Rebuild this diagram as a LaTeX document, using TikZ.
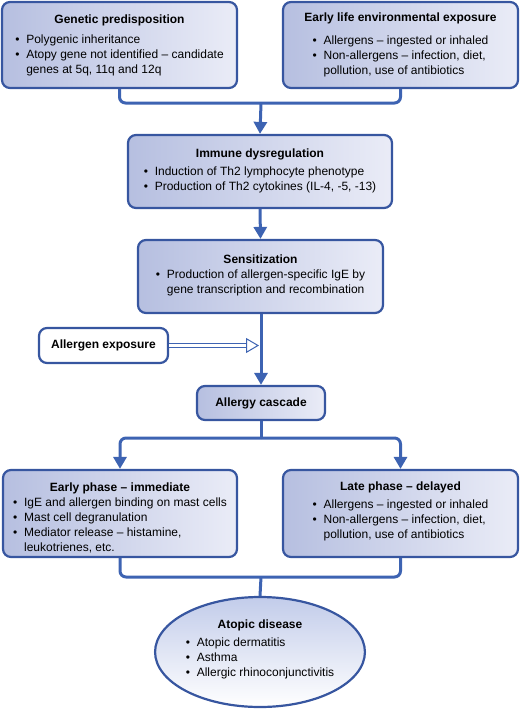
\documentclass[tikz,border=0pt]{standalone}
\usepackage{fontspec}
\setmainfont{Liberation Sans}
\usetikzlibrary{arrows.meta,shapes.geometric}
\definecolor{bordercol}{HTML}{3756A0}
\definecolor{conncol}{HTML}{3D63B2}
\definecolor{fillL}{HTML}{B6BFE0}
\definecolor{fillR}{HTML}{EAECF7}
\definecolor{ellT}{HTML}{C2CCEA}
\newcommand{\bu}{\makebox[11pt][l]{\textbullet}}
\newcommand{\ind}{\hspace*{11pt}}
\newcommand{\blist}[1]{\begin{tabular}{@{}l@{}}#1\end{tabular}}
\tikzset{
  box/.style={draw=bordercol, line width=2.2pt, rounded corners=8pt,
    left color=fillL, right color=fillR, align=center, inner sep=0pt,
    font=\fontsize{12}{15}\selectfont},
  wbox/.style={draw=bordercol, line width=2.2pt, rounded corners=8pt,
    fill=white, align=center, inner sep=0pt, font=\fontsize{12}{15}\selectfont\bfseries},
  conn/.style={draw=conncol, line width=3pt, rounded corners=6pt},
  arr/.style={conn, -{Triangle[width=13pt,length=12pt]}},
  dbl/.style={draw=conncol, line width=0.9pt, double=white, double distance=3pt,
    -{Triangle[open,width=15pt,length=13pt,line width=1pt]}},
}
\begin{document}
\begin{tikzpicture}[x=1pt,y=-1pt]
\useasboundingbox (0,0) rectangle (520,709);
\node[box, minimum width=235pt, minimum height=86pt] (gen) at (119.5,45)
  {\textbf{Genetic predisposition}\rule{0pt}{11pt}\\[6pt]
   \blist{\bu Polygenic inheritance\\ \bu Atopy gene not identified -- candidate\\ \ind genes at 5q, 11q and 12q}};
\node[box, minimum width=235pt, minimum height=86pt] (early) at (400.5,45)
  {\textbf{Early life environmental exposure}\\[9pt]
   \blist{\bu Allergens -- ingested or inhaled\\ \bu Non-allergens -- infection, diet,\\ \ind pollution, use of antibiotics}\\[-2pt]};
\coordinate (j1) at (261,103);
\node[box, minimum width=264pt, minimum height=73pt] (imm) at (260,171.5)
  {\textbf{Immune dysregulation}\\[4pt]
   \blist{\bu Induction of Th2 lymphocyte phenotype\\ \bu Production of Th2 cytokines (IL-4, -5, -13)}};
\node[box, minimum width=245pt, minimum height=73pt] (sens) at (260.5,276.5)
  {\textbf{Sensitization}\\[4pt]
   \blist{\bu Production of allergen-specific IgE by\\ \ind gene transcription and recombination}};
\node[wbox, minimum width=129pt, minimum height=35pt] (exp) at (103.5,345.5) {Allergen exposure};
\node[box, minimum width=128pt, minimum height=34pt, font=\fontsize{12}{15}\selectfont\bfseries] (casc) at (261,403) {Allergy cascade};
\coordinate (hit) at (259,345.5);
\coordinate (j2) at (261,438);
\node[box, minimum width=234pt, minimum height=87pt] (ep) at (120,513.5)
  {\textbf{Early phase -- immediate}\rule{0pt}{21pt}\\[1pt]
   \blist{\bu IgE and allergen binding on mast cells\\ \bu Mast cell degranulation\\ \bu Mediator release -- histamine,\\ \ind leukotrienes, etc.}};
\node[box, minimum width=235pt, minimum height=87pt] (lp) at (400.5,513.5)
  {\textbf{Late phase -- delayed}\\[4pt]
   \blist{\bu Allergens -- ingested or inhaled\\ \bu Non-allergens -- infection, diet,\\ \ind pollution, use of antibiotics}\\[1pt]};
\coordinate (j3) at (261,577);
\node[ellipse, draw=bordercol, line width=2.2pt, top color=ellT, bottom color=white,
  minimum width=207pt, minimum height=110pt, inner sep=0pt, align=center,
  font=\fontsize{12}{15}\selectfont] (atop) at (260,652)
  {\textbf{Atopic disease}\\[4pt]
   \blist{\bu Atopic dermatitis\\ \bu Asthma\\ \bu Allergic rhinoconjunctivitis}\\[3pt]};
% connectors
\draw[conn] (gen.south) |- (j1) -| (early.south);
\draw[arr] (j1) -- (imm.north);
\draw[arr] (imm.south) -- (sens.north);
\draw[arr] (sens.south -| casc.north) -- (casc.north);
\draw[dbl] (exp.east) -- (hit);
\draw[conn] (casc.south) -- (j2);
\draw[arr] (j2) -| (ep.north);
\draw[arr] (j2) -| (lp.north);
\draw[conn] (ep.south) |- (j3) -| (lp.south);
\draw[conn] (j3) -- (atop.north);
\end{tikzpicture}
\end{document}
